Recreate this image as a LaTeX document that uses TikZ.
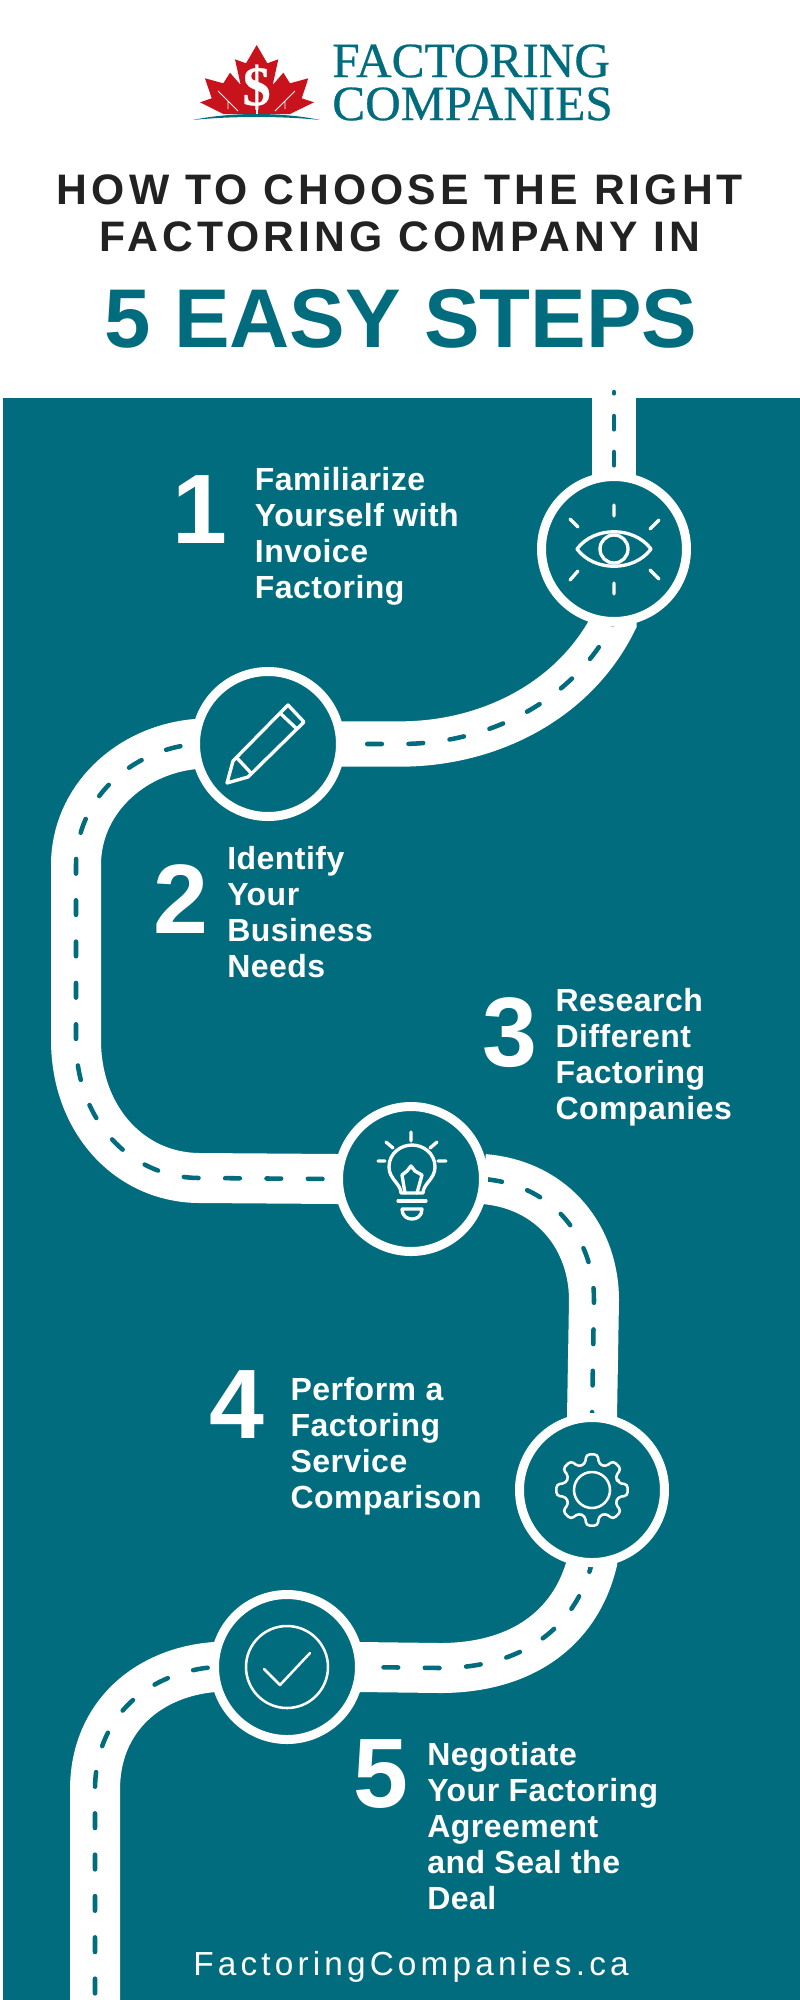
\documentclass[tikz,border=0pt]{standalone}
\usepackage{fontspec}
\usetikzlibrary{positioning,backgrounds}
\setmainfont{Liberation Sans}
\newfontfamily\logofont[FakeBold=0.5]{Liberation Serif}
\newfontfamily\headfont[LetterSpace=9.5]{Liberation Sans}
\newfontfamily\stepfont[LetterSpace=1.5]{Liberation Sans}
\newfontfamily\footfont[LetterSpace=12.5]{Liberation Sans}
\definecolor{tealbg}{HTML}{016C7E}
\definecolor{leafred}{HTML}{C8121C}
\definecolor{headdark}{HTML}{222222}
\tikzset{
  stopnode/.style={circle, draw=white, fill=tealbg, line width=6.75pt, minimum size=108.75pt, inner sep=0pt, outer sep=0pt},
  numnode/.style={text=white, inner sep=0pt, font=\bfseries\fontsize{74}{74}\selectfont},
  stepnode/.style={text=white, inner sep=0pt, align=left, font=\stepfont\bfseries\fontsize{24}{27}\selectfont},
  headnode/.style={text=headdark, inner sep=0pt, font=\headfont\bfseries\fontsize{32}{32}\selectfont},
  logonode/.style={text=tealbg, inner sep=0pt, anchor=west, font=\logofont\fontsize{37}{37}\selectfont},
  iconline/.style={draw=white, line width=2.5pt, line cap=round, line join=round},
  thinline/.style={draw=white, line width=1.9pt, line cap=round, line join=round},
  road/.style={preaction={draw=white, solid, line cap=butt, line width=#1}, draw=tealbg, line width=3.4pt, line cap=round, dash pattern=on 11pt off 20pt},
  road/.default=37.5pt
}
\begin{document}
\begin{tikzpicture}[x=0.75pt, y=-0.75pt]
  \useasboundingbox (0,0) rectangle (800,2000);

  \fill[leafred] (256.7,45) -- (267.3,63.3) -- (278.3,59.3) -- (272.7,85) -- (283.3,72.7) -- (290,83.3) -- (308.3,78.3) -- (301.7,98.3) -- (314,102.3) -- (290,114) -- (223.3,114) -- (200,102.3) -- (211.7,98.3) -- (205,78.3) -- (223.3,83.3) -- (230,72.7) -- (240.7,85) -- (235,59.3) -- (246,63.3) -- cycle;
  \draw[white, line width=0.7pt] (238,111) -- (218,91) (228,101) -- (228,109) (275,111) -- (295,91) (285,101) -- (285,109);
  \draw[white, line width=1.4pt] (256.7,100) -- (256.7,114);
  \node (dollar) at (256.7,87) [text=white, inner sep=0pt, font=\logofont\bfseries\fontsize{42}{42}\selectfont] {\$};
  \fill[tealbg] (193,120) .. controls (230,112) and (283,112) .. (320,120) .. controls (283,116) and (230,116) .. (193,120) -- cycle;
  \node (logo1) at (332,61) [logonode] {FACTORING};
  \node (logo2) at (332,104) [logonode] {COMPANIES};

  \node (head1) at (400,190) [headnode] {HOW TO CHOOSE THE RIGHT};
  \node (head2) [headnode, below=12pt of head1] {FACTORING COMPANY IN};
  \node (head3) at (401,319) [text=tealbg, inner sep=0pt, font=\bfseries\fontsize{62.5}{62.5}\selectfont] {5 EASY STEPS};

  \node (eye) at (614,549) [stopnode] {};
  \node (pencil) at (268,744) [stopnode] {};
  \node (bulb) at (411,1179) [stopnode] {};
  \node (gear) at (592,1490) [stopnode] {};
  \node (check) at (287,1667) [stopnode] {};
  \coordinate (roadtop) at (614,392);
  \coordinate (roadend) at (95,2000);

  \begin{pgfonlayer}{background}
    \fill[tealbg] (3,398) rectangle (800,2000);
    \draw[road=33pt, dash pattern=on 10pt off 17pt, dash phase=9pt] (roadtop) -- (eye.north);
    \draw[road=34pt, dash phase=11pt] (pencil.east) -- (400,744) .. controls (490,744) and (575,700) .. (eye.south) -- (eye.center);
    \draw[road, dash phase=19pt] (bulb.west) -- (200,1178) .. controls (130,1178) and (76,1120) .. (76,1040) -- (76,865) .. controls (76,800) and (130,750) .. (pencil.west) -- (pencil.center);
    \draw[road, dash phase=28pt] (bulb.east) .. controls (555,1185) and (594,1240) .. (594,1300) -- (gear.north);
    \draw[road, dash phase=13pt] (check.east) -- (440,1668) .. controls (520,1668) and (575,1630) .. (gear.south) -- (gear.center);
    \draw[road, dash phase=26pt] (roadend) -- (95,1790) .. controls (95,1715) and (150,1672) .. (check.west) -- (check.center);
  \end{pgfonlayer}

  \begin{scope}[shift={(eye.center)}]
    \draw[iconline] (-37,0) .. controls (-20,-23) and (20,-23) .. (37,0) .. controls (20,23) and (-20,23) .. (-37,0) -- cycle;
    \draw[iconline] (0,0) circle (14);
    \draw[iconline] (0,-44) -- (0,-33) (-44,-30) -- (-36,-22) (45,-29) -- (36,-20) (-44,31) -- (-36,22) (45,30) -- (36,21) (0,34) -- (0,45);
  \end{scope}
  \begin{scope}[shift={(pencil.center)}]
    \draw[iconline] (20,-39) -- (36,-22) -- (-20,33) -- (-41,39) -- (-35,17) -- cycle;
    \draw[iconline] (12,-31) -- (29,-15) (-31,14) -- (-17,29);
  \end{scope}
  \begin{scope}[shift={(bulb.center)}]
    \draw[iconline] (-10,14) .. controls (-10,5) and (-22,0) .. (-22,-12) .. controls (-22,-26) and (-10,-34) .. (1,-34) .. controls (12,-34) and (24,-26) .. (24,-12) .. controls (24,0) and (12,5) .. (12,14) -- cycle;
    \draw[iconline] (-6,14) -- (-9,-4) -- (-4,-8) -- (0,-13) -- (4,-8) -- (11,-4) -- (6,14);
    \draw[iconline] (-13,22) -- (15,22);
    \draw[iconline] (-9,30) -- (11,30) .. controls (11,37) and (6,40) .. (1,40) .. controls (-4,40) and (-9,37) .. (-9,30);
    \draw[iconline] (0,-47) -- (0,-38) (-25,-37) -- (-18,-31) (26,-37) -- (19,-31) (-33,-18) -- (-26,-18) (27,-18) -- (35,-18);
  \end{scope}
  \begin{scope}[shift={(gear.center)}]
    \draw[thinline, rounded corners=2.5pt] (-15:27) \foreach \a in {0,45,...,315} { -- (\a-15:27) -- (\a-9:36) -- (\a+9:36) -- (\a+15:27) } -- cycle;
    \draw[thinline] (0,0) circle (18);
  \end{scope}
  \begin{scope}[shift={(check.center)}]
    \draw[thinline] (0,0) circle (41);
    \draw[thinline] (-23,2) -- (-7,18) -- (23,-14);
  \end{scope}

  \node (num1) at (200,510) [numnode] {1};
  \node (txt1) [stepnode, right=41pt of num1.center, yshift=-20pt] {Familiarize\\Yourself with\\Invoice\\Factoring};
  \node (num2) at (181,899) [numnode] {2};
  \node (txt2) [stepnode, right=34.5pt of num2.center, yshift=-10pt] {Identify\\Your\\Business\\Needs};
  \node (num3) at (510,1033) [numnode] {3};
  \node (txt3) [stepnode, right=34pt of num3.center, yshift=-18pt] {Research\\Different\\Factoring\\Companies};
  \node (num4) at (237,1405) [numnode] {4};
  \node (txt4) [stepnode, right=40pt of num4.center, yshift=-31pt] {Perform a\\Factoring\\Service\\Comparison};
  \node (num5) at (381,1774) [numnode] {5};
  \node (txt5) [stepnode, right=34.5pt of num5.center, yshift=-39pt] {Negotiate\\Your Factoring\\Agreement\\and Seal the\\Deal};

  \node (site) at (411,1967) [text=white, inner sep=0pt, font=\footfont\fontsize{25}{25}\selectfont] {FactoringCompanies.ca};
\end{tikzpicture}
\end{document}
